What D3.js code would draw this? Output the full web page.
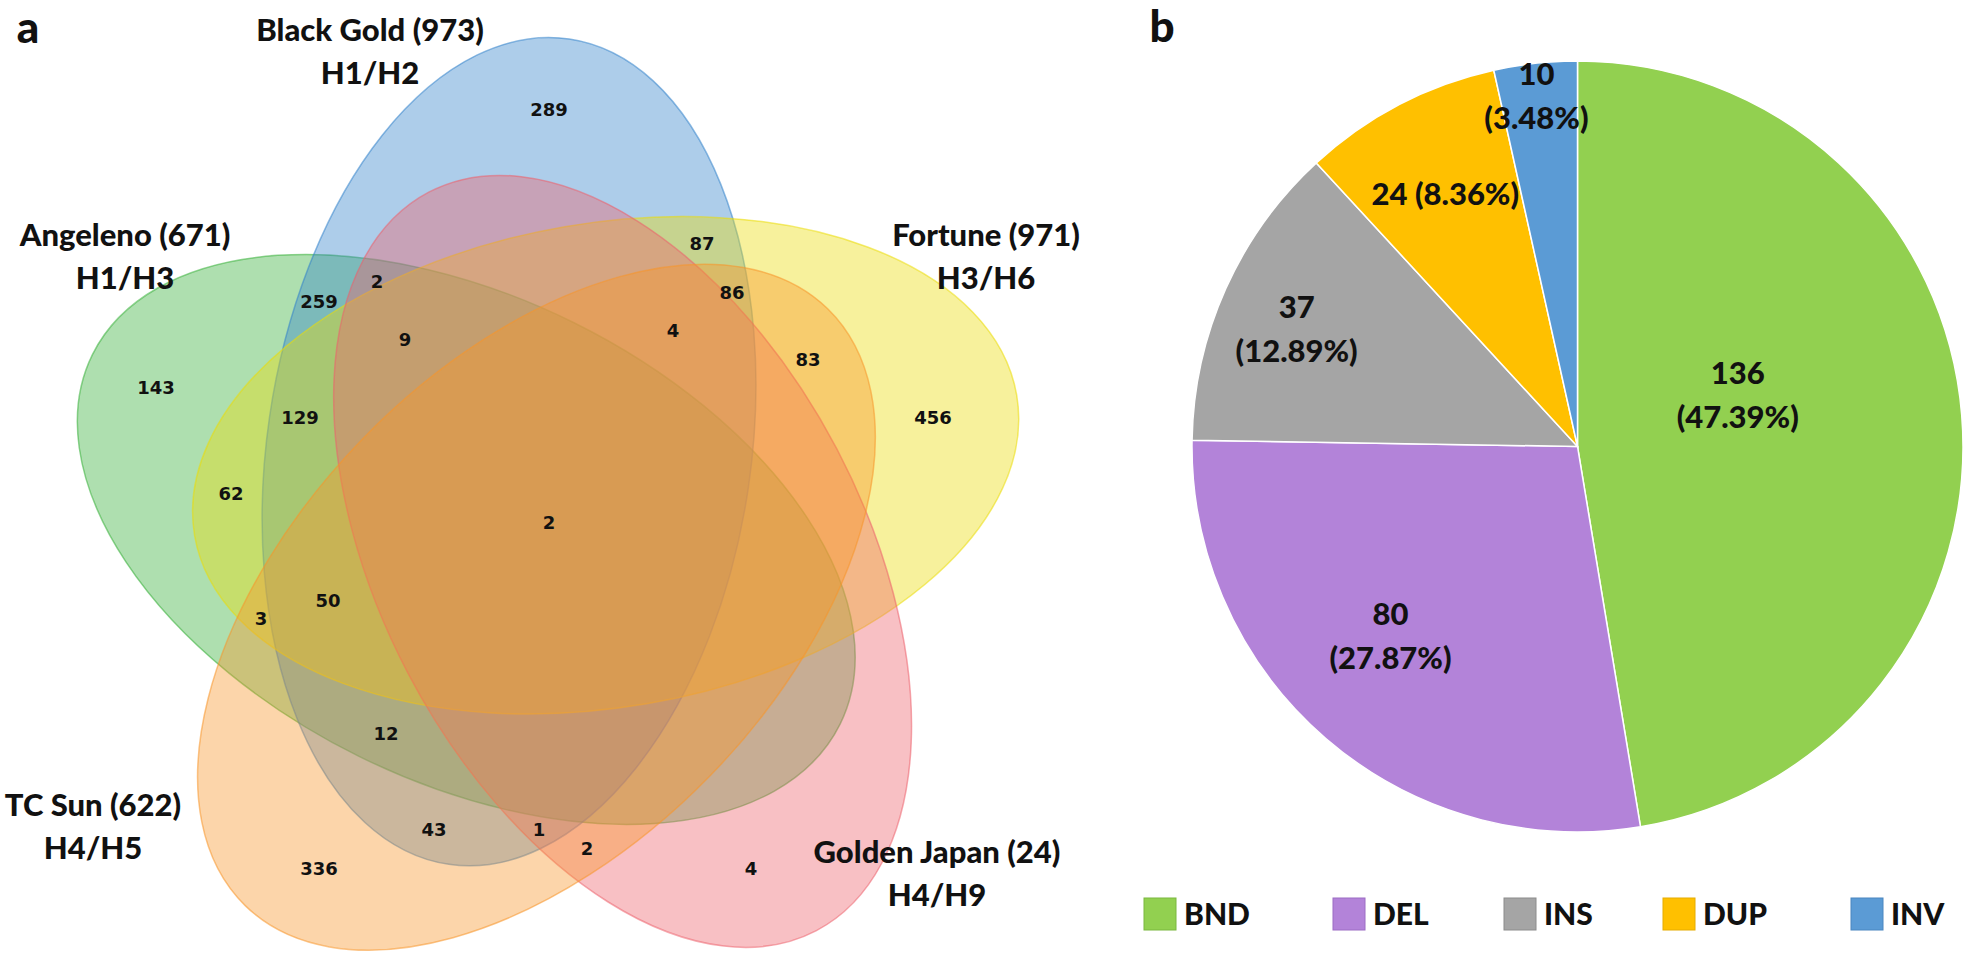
<!DOCTYPE html>
<html><head><meta charset="utf-8">
<script src="https://cdn.jsdelivr.net/npm/d3@7"></script>
<style>body{margin:0;background:#fff;} svg{display:block;}</style>
</head><body><svg id="c" width="1966" height="956"></svg>
<script>
// ---------- data ----------
const setNames = ["Black Gold", "Fortune", "Golden Japan", "TC Sun", "Angeleno"];
const setTotals = [973, 971, 24, 622, 671];
const setHaplotypes = ["H1/H2", "H3/H6", "H4/H9", "H4/H5", "H1/H3"];
const regionCounts = [289, 87, 86, 2, 259, 9, 4, 83, 143, 129, 456, 62, 2, 50, 3, 12, 43, 1, 2, 336, 4];
const svTypes = ["BND", "DEL", "INS", "DUP", "INV"];
const svCounts = [136, 80, 37, 24, 10];

// ---------- layout / style ----------
const W = 1966, H = 956;
const venn = {cx: 548, cy: 525, d: 83, a: 417, b: 242, theta0: -118, delta: 36.3};
const setColors = ["#3282ca", "#ebdc08", "#ed616b", "#f7962a", "#34af37"];
const setOpacity = 0.4;
const drawOrder = [4, 0, 1, 2, 3];
const setLabelPos = [[370, 30], [986, 235], [937, 852], [93, 805], [125, 235]];
const regionLabelPos = [[549,110],[702,244],[732,293],[377,282],[319,302],[405,340],[673,331],[808,360],
  [156,388],[300,418],[933,418],[231,494],[549,523],[328,601],[261,619],[386,734],[434,830],[539,830],
  [587,849],[319,869],[751,869]];
const pie = {cx: 1577.5, cy: 446.5, r: 385.5};
const svColors = ["#92d050", "#b383d9", "#a5a5a5", "#ffc000", "#5b9bd5"];
const svBorder = ["#7ab83e", "#9c6cc4", "#8c8c8c", "#e6ac00", "#4a86c0"];
const pieLabelRadius = [0.437, 0.69, 0.79, 0.74, 0.917];
const pieLabelShift = [-13.3, 3.9, -1.4, 0, -0.4];
const pieLabelOneLine = [false, false, false, true, false];
const legendX = [1144, 1333, 1504, 1663, 1851];
const legendY = 898, legendSize = 32;

const LABEL_FONT = "Lato, 'Open Sans', sans-serif";
const LABEL_WEIGHT = 900;
const NUM_FONT = "'DejaVu Sans', Verdana, sans-serif";

const svg = d3.select("#c");
svg.append("rect").attr("width", W).attr("height", H).attr("fill", "#fff");

// ---------- Venn ----------
const gV = svg.append("g");
const ellipses = setNames.map((n, i) => {
  const th = (venn.theta0 + 72 * i) * Math.PI / 180;
  return {
    i,
    cx: venn.cx + venn.d * Math.cos(th),
    cy: venn.cy + venn.d * Math.sin(th),
    rot: venn.theta0 + 72 * i + venn.delta
  };
});
gV.selectAll("ellipse").data(drawOrder.map(k => ellipses[k])).join("ellipse")
  .attr("cx", d => d.cx).attr("cy", d => d.cy)
  .attr("rx", venn.a).attr("ry", venn.b)
  .attr("transform", d => `rotate(${d.rot},${d.cx},${d.cy})`)
  .attr("fill", d => setColors[d.i]).attr("fill-opacity", setOpacity)
  .attr("stroke", d => setColors[d.i]).attr("stroke-opacity", 0.55).attr("stroke-width", 1.5);

gV.selectAll("text.rc").data(regionCounts).join("text").attr("class", "rc")
  .attr("x", (d, i) => regionLabelPos[i][0]).attr("y", (d, i) => regionLabelPos[i][1])
  .attr("dy", "0.36em").attr("text-anchor", "middle")
  .attr("font-family", NUM_FONT).attr("font-weight", "bold").attr("font-size", 18)
  .attr("fill", "#111").text(d => d);

const sl = gV.selectAll("g.sl").data(setNames).join("g").attr("class", "sl")
  .attr("transform", (d, i) => `translate(${setLabelPos[i][0]},${setLabelPos[i][1]})`);
sl.append("text").attr("text-anchor", "middle").attr("dy", "0.36em")
  .attr("font-family", LABEL_FONT).attr("font-weight", LABEL_WEIGHT).attr("font-size", 31).attr("fill", "#111")
  .text((d, i) => `${d} (${setTotals[i]})`);
sl.append("text").attr("text-anchor", "middle").attr("y", 43).attr("dy", "0.36em")
  .attr("font-family", LABEL_FONT).attr("font-weight", LABEL_WEIGHT).attr("font-size", 31).attr("fill", "#111")
  .text((d, i) => setHaplotypes[i]);

svg.append("text").attr("x", 28).attr("y", 27).attr("dy", "0.36em").attr("text-anchor", "middle")
  .attr("font-family", LABEL_FONT).attr("font-weight", LABEL_WEIGHT).attr("font-size", 44).attr("fill", "#111").text("a");
svg.append("text").attr("x", 1162).attr("y", 26).attr("dy", "0.36em").attr("text-anchor", "middle")
  .attr("font-family", LABEL_FONT).attr("font-weight", LABEL_WEIGHT).attr("font-size", 44).attr("fill", "#111").text("b");

// ---------- Pie ----------
const total = d3.sum(svCounts);
const arcs = d3.pie().sort(null).value(d => d)(svCounts);
const arcGen = d3.arc().innerRadius(0).outerRadius(pie.r);
const gP = svg.append("g").attr("transform", `translate(${pie.cx},${pie.cy})`);
gP.selectAll("path").data(arcs).join("path")
  .attr("d", arcGen).attr("fill", (d, i) => svColors[i])
  .attr("stroke", "#fff").attr("stroke-width", 1.5);

const lab = gP.selectAll("g.pl").data(arcs).join("g").attr("class", "pl")
  .attr("transform", (d, i) => {
    const ang = (d.startAngle + d.endAngle) / 2 + pieLabelShift[i] * Math.PI / 180;
    const rr = pieLabelRadius[i] * pie.r;
    return `translate(${rr * Math.sin(ang)},${-rr * Math.cos(ang)})`;
  });
lab.each(function(d, i) {
  const g = d3.select(this);
  const pct = (d.value / total * 100).toFixed(2) + "%";
  const lines = pieLabelOneLine[i] ? [`${d.value} (${pct})`] : [`${d.value}`, `(${pct})`];
  g.selectAll("text").data(lines).join("text")
    .attr("text-anchor", "middle")
    .attr("y", (t, j) => (j - (lines.length - 1) / 2) * 44)
    .attr("dy", "0.36em")
    .attr("font-family", LABEL_FONT).attr("font-weight", LABEL_WEIGHT).attr("font-size", 31).attr("fill", "#111")
    .text(t => t);
});

// ---------- Legend ----------
const lg = svg.append("g").selectAll("g").data(svTypes).join("g")
  .attr("transform", (d, i) => `translate(${legendX[i]},${legendY})`);
lg.append("rect").attr("width", legendSize).attr("height", legendSize)
  .attr("fill", (d, i) => svColors[i]).attr("stroke", (d, i) => svBorder[i]).attr("stroke-width", 1);
lg.append("text").attr("x", legendSize + 8).attr("y", legendSize / 2).attr("dy", "0.36em")
  .attr("font-family", LABEL_FONT).attr("font-weight", LABEL_WEIGHT).attr("font-size", 30).attr("fill", "#111")
  .text(d => d);
</script></body></html>
